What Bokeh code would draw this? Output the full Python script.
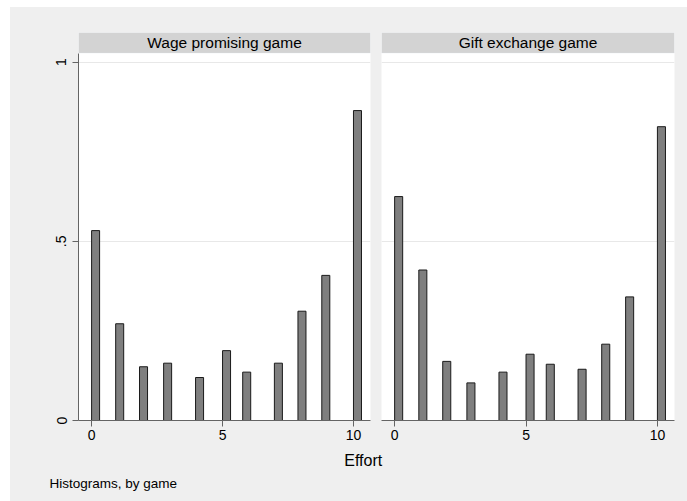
import math
from bokeh.plotting import figure
from bokeh.layouts import row, column
from bokeh.models import BoxAnnotation, Label, FixedTicker, Range1d, Grid
from bokeh.core.properties import value
from bokeh.embed import file_html
from bokeh.resources import INLINE

# ---------------- data ----------------
games = ["Wage promising game", "Gift exchange game"]
bin_start = [0.0, 0.92, 1.83, 2.75, 3.97, 5.0, 5.77, 6.98, 7.88, 8.79, 10.0]
bin_width = 0.306
density_wage = [0.53, 0.27, 0.15, 0.16, 0.12, 0.195, 0.135, 0.16, 0.305, 0.405, 0.865]
density_gift = [0.625, 0.42, 0.165, 0.105, 0.135, 0.185, 0.157, 0.143, 0.213, 0.345, 0.82]
x_ticks = [0, 5, 10]
y_ticks = [0, 0.5, 1]
y_tick_labels = [".5" if t == 0.5 else str(int(t)) for t in y_ticks]
x_title = "Effort"
y_title = "Density"
note = "Histograms, by game"

# ---------------- style / layout ----------------
FONT = "Liberation Sans"
BG = "#efefef"
HEADER_FILL = "#d3d3d3"
HEADER_LINE = "#dbe4e8"
AXIS_COLOR = "#646464"
GRID_COLOR = "#e8e8e8"
BAR_FILL = "#7f7f7f"
BAR_LINE = "#1a1a1a"

X_START, X_END = -0.5, 10.65
PPU_Y = 358.3            # pixels per density unit
FRAME_TOP = 32           # page px
FRAME_BOTTOM = 420       # page px (y = 0)
HEADER_H = 20.5
Y_END = (FRAME_BOTTOM - FRAME_TOP) / PPU_Y
HEADER_BOTTOM = Y_END - HEADER_H / PPU_Y
TOP_MARGIN = 7
LEFT_MARGIN = 10
SPLIT_Y = 448
PLOT_H = SPLIT_Y - TOP_MARGIN


def make_panel(title, dens, canvas_left, canvas_right, frame_left, frame_right, show_y):
    p = figure(width=canvas_right - canvas_left, height=PLOT_H,
               x_range=Range1d(X_START, X_END), y_range=Range1d(0, Y_END),
               output_backend="svg", toolbar_location=None,
               y_axis_location="left" if show_y else None,
               min_border_left=frame_left - canvas_left,
               min_border_right=canvas_right - frame_right,
               min_border_top=FRAME_TOP - TOP_MARGIN,
               min_border_bottom=SPLIT_Y - FRAME_BOTTOM,
               background_fill_color="white", border_fill_color=BG,
               outline_line_color=None)
    for g in p.grid:
        g.visible = False
    p.add_layout(Grid(dimension=1, ticker=FixedTicker(ticks=y_ticks),
                      grid_line_color=GRID_COLOR, grid_line_width=1))

    p.quad(left=bin_start, right=[b + bin_width for b in bin_start],
           bottom=0, top=dens, fill_color=BAR_FILL, line_color=BAR_LINE, line_width=1)

    xa = p.xaxis[0]
    xa.ticker = FixedTicker(ticks=x_ticks)
    xa.minor_tick_line_color = None
    xa.major_tick_in = 0
    xa.major_tick_out = 6
    xa.major_label_standoff = 3
    xa.axis_line_color = AXIS_COLOR
    xa.major_tick_line_color = AXIS_COLOR
    xa.major_label_text_font = FONT
    xa.major_label_text_font_size = "14px"
    xa.major_label_text_color = "black"

    if show_y:
        ya = p.yaxis[0]
        ya.ticker = FixedTicker(ticks=y_ticks)
        ya.major_label_overrides = {t: l for t, l in zip(y_ticks, y_tick_labels)}
        ya.minor_tick_line_color = None
        ya.major_tick_in = 0
        ya.major_tick_out = 6
        ya.major_label_standoff = 6
        ya.major_label_orientation = "parallel"
        ya.axis_line_color = AXIS_COLOR
        ya.major_tick_line_color = AXIS_COLOR
        ya.major_label_text_font = FONT
        ya.major_label_text_font_size = "14px"
        ya.major_label_text_color = "black"
        ya.bounds = (0, HEADER_BOTTOM)
        ppu_x = (frame_right - frame_left) / (X_END - X_START)
        p.add_layout(Label(x=X_START + (34 - frame_left) / ppu_x,
                           y=(FRAME_BOTTOM - 240.5) / PPU_Y,
                           text=y_title, angle=math.pi / 2,
                           text_align="center", text_baseline="middle",
                           text_font=FONT, text_font_size="16px", text_color="black"))

    p.add_layout(BoxAnnotation(left=X_START, right=X_END, bottom=HEADER_BOTTOM, top=Y_END,
                               fill_color=HEADER_FILL, fill_alpha=1,
                               line_color=HEADER_LINE, line_width=1))
    p.add_layout(Label(x=(X_START + X_END) / 2, y=(HEADER_BOTTOM + Y_END) / 2,
                       text=title, text_align="center", text_baseline="middle",
                       text_font=FONT, text_font_size="15.5px", text_color="black"))
    return p


p1 = make_panel(games[0], density_wage, LEFT_MARGIN, 376, 78, 370, True)
p2 = make_panel(games[1], density_gift, 376, 687, 381, 674, False)

bottom = figure(width=687 - LEFT_MARGIN, height=501 - SPLIT_Y,
                x_range=Range1d(LEFT_MARGIN, 687), y_range=Range1d(501, SPLIT_Y),
                output_backend="svg", toolbar_location=None,
                x_axis_location=None, y_axis_location=None,
                min_border=0, min_border_left=0, min_border_right=0,
                min_border_top=0, min_border_bottom=0,
                background_fill_color=BG, border_fill_color=BG,
                outline_line_color=None)
for g in bottom.grid:
    g.visible = False
bottom.text(x=[362.7], y=[459.5], text=[x_title], text_align="center",
            text_baseline="middle", text_font=value(FONT), text_font_size="16px",
            text_color="black")
bottom.text(x=[49], y=[483], text=[note], text_align="left",
            text_baseline="alphabetic", text_font=value(FONT), text_font_size="13.5px",
            text_color="black")

layout = column(row(p1, p2, spacing=0, styles={"background-color": BG}),
                bottom, spacing=0,
                styles={"background-color": BG},
                margin=(TOP_MARGIN, 0, 0, LEFT_MARGIN))

open("out.html", "w").write(file_html(layout, INLINE))
